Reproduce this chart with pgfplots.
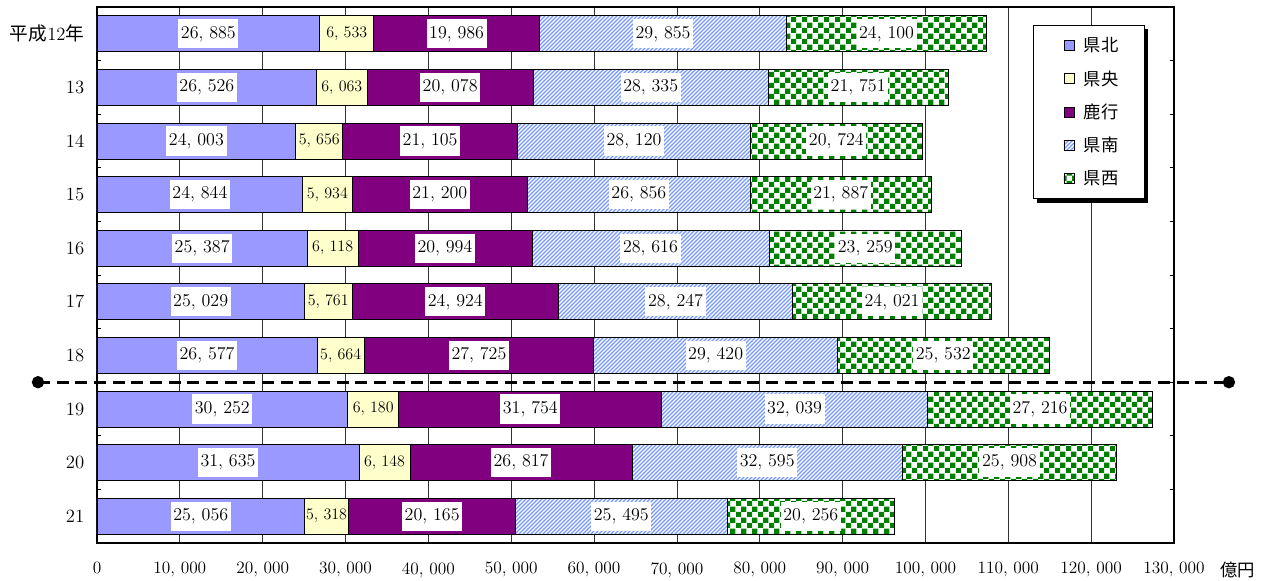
\documentclass[border=0pt]{standalone}
\usepackage{pgfplots}
\pgfplotsset{compat=1.18}
\usepackage{pgfplotstable}
\usepackage{fontspec}
\newfontfamily\cjk{Noto Sans CJK JP}
\usetikzlibrary{patterns}

\pgfdeclarepatternformonly{mylines}{\pgfqpoint{-1pt}{-1pt}}{\pgfqpoint{4pt}{4pt}}{\pgfqpoint{3pt}{3pt}}{%
 \pgfsetlinewidth{0.9pt}\pgfpathmoveto{\pgfqpoint{0pt}{0pt}}\pgfpathlineto{\pgfqpoint{3.1pt}{3.1pt}}\pgfusepath{stroke}}
\pgfdeclarepatternformonly{mycheck}{\pgfpointorigin}{\pgfqpoint{8pt}{8pt}}{\pgfqpoint{8pt}{8pt}}{%
 \pgfpathrectangle{\pgfpointorigin}{\pgfqpoint{4pt}{4pt}}\pgfpathrectangle{\pgfqpoint{4pt}{4pt}}{\pgfqpoint{4pt}{4pt}}\pgfusepath{fill}}

\definecolor{cA}{HTML}{9999FF}
\definecolor{cB}{HTML}{FFFFCC}
\definecolor{cC}{HTML}{800080}
\definecolor{cD}{HTML}{7799FF}
\definecolor{cE}{HTML}{008000}

\pgfplotstableread{
y a b c d e
0 26885 6533 19986 29855 24100
1 26526 6063 20078 28335 21751
2 24003 5656 21105 28120 20724
3 24844 5934 21200 26856 21887
4 25387 6118 20994 28616 23259
5 25029 5761 24924 28247 24021
6 26577 5664 27725 29420 25532
7 30252 6180 31754 32039 27216
8 31635 6148 26817 32595 25908
9 25056 5318 20165 25495 20256
}\data

\pgfplotsset{
 base/.style={scale only axis, width=807.75pt, height=402pt,
   xmin=0, xmax=130000, ymin=-0.5, ymax=9.5, y dir=reverse,
   /pgf/number format/.cd, fixed, precision=0, 1000 sep={,\ }, assume math mode=true, /pgfplots/.cd},
 leg/.style={legend image code/.code={%
   \pgfpathmoveto{\pgfqpoint{-6pt}{0pt}}\pgfpathlineto{\pgfqpoint{13pt}{0pt}}\pgfusepath{use as bounding box}%
   \draw[##1, line width=0.6pt] (0pt,-3.75pt) rectangle (7.5pt,3.75pt);}},
 lab/.style={draw=none, mark=none, nodes near coords, nodes near coords align=center, point meta=explicit,
   every node near coord/.style={fill=white, inner xsep=2pt, inner ysep=0pt, minimum height=22pt,
   font=\fontsize{13.5}{13.5}\selectfont, text=black, anchor=center}},
 labs/.style={lab,
   every node near coord/.append style={font=\fontsize{12}{12}\selectfont, inner xsep=0pt, fill=none}}
}

\begin{document}
\begin{tikzpicture}
\begin{axis}[base,
  xbar stacked, bar width=27pt,
  xtick={0,10000,20000,30000,40000,50000,60000,70000,80000,90000,100000,110000,120000,130000},
  scaled x ticks=false,
  xmajorgrids, major grid style={black!80, line width=0.6pt},
  ytick={0,1,2,3,4,5,6,7,8,9},
  yticklabels={{\cjk 平成}12{\cjk 年},13,14,15,16,17,18,19,20,21},
  minor ytick={0.5,1.5,2.5,3.5,4.5,5.5,6.5,7.5,8.5},
  major tick length=0pt, minor tick length=3pt, tick align=inside,
  tick style={black, line width=0.6pt},
  axis line style={black, line width=0.9pt},
  xticklabel style={font=\fontsize{13}{13}\selectfont, yshift=-11pt},
  yticklabel style={font=\fontsize{14}{14}\selectfont, xshift=-6pt},
  legend style={name=lgd, at={(0.869,0.966)}, anchor=north west, draw=black, line width=0.6pt, fill=white,
    font=\cjk\fontsize{13}{13}\selectfont, row sep=8.5pt, inner xsep=17pt, inner ysep=7pt,
    cells={anchor=west}},
]
\addplot[leg, fill=cA, draw=black, line width=0.6pt] table[x=a, y=y] {\data};
\addplot[leg, fill=cB, draw=black, line width=0.6pt] table[x=b, y=y] {\data};
\addplot[leg, fill=cC, draw=black, line width=0.6pt] table[x=c, y=y] {\data};
\addplot[leg, fill=white, draw=black, line width=0.6pt, postaction={pattern=mylines, pattern color=cD}] table[x=d, y=y] {\data};
\addplot[leg, fill=white, draw=black, line width=0.6pt, postaction={pattern=mycheck, pattern color=cE}] table[x=e, y=y] {\data};
\legend{県北,県央,鹿行,県南,県西}
\end{axis}
\begin{axis}[base, hide axis, clip=false]
\addplot[lab] table[x expr=\thisrow{a}/2, y=y, meta=a] {\data};
\addplot[labs] table[x expr=\thisrow{a}+\thisrow{b}/2, y=y, meta=b] {\data};
\addplot[lab] table[x expr=\thisrow{a}+\thisrow{b}+\thisrow{c}/2, y=y, meta=c] {\data};
\addplot[lab] table[x expr=\thisrow{a}+\thisrow{b}+\thisrow{c}+\thisrow{d}/2, y=y, meta=d] {\data};
\addplot[lab] table[x expr=\thisrow{a}+\thisrow{b}+\thisrow{c}+\thisrow{d}+\thisrow{e}/2, y=y, meta=e] {\data};
\addplot[black, line width=2pt, dash pattern=on 9pt off 5pt, mark=*, mark size=3.6pt, mark options={solid}]
  coordinates {(-7121,6.5) (136633,6.5)};
\node[font=\cjk\fontsize{13}{13}\selectfont, anchor=west, xshift=31pt, yshift=-20pt] at (axis cs:130000,9.5) {億円};
\end{axis}
\fill[black] ([yshift=-3pt]lgd.north east) rectangle ([xshift=3pt,yshift=-3pt]lgd.south east);
\fill[black] ([xshift=3pt]lgd.south west) rectangle ([xshift=3pt,yshift=-3pt]lgd.south east);
\pgfresetboundingbox
\path (-72.75pt,-28.5pt) rectangle (876pt,407.25pt);
\end{tikzpicture}
\end{document}
